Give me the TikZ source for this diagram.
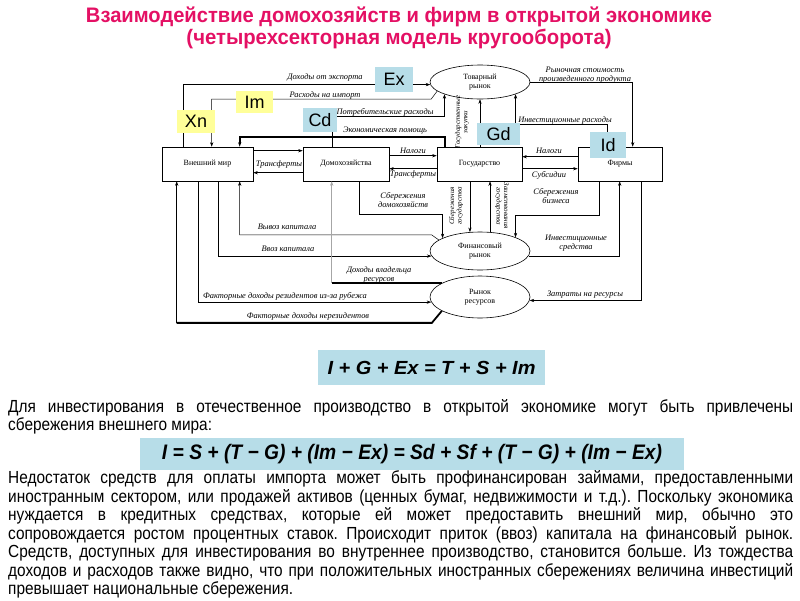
\documentclass[tikz,border=0pt]{standalone}
\usepackage{fontspec}
\usepackage{graphicx}
\setmainfont{Liberation Serif}
\newfontfamily\bodyfont[FakeStretch=0.88]{Liberation Sans}
\newfontfamily\titlefont{Liberation Sans}
\newfontfamily\labfont{Liberation Sans}
\usetikzlibrary{shapes.geometric,arrows.meta,calc}
\definecolor{ttl}{RGB}{228,16,100}
\definecolor{lblue}{RGB}{183,221,232}
\definecolor{lyel}{RGB}{255,255,153}
\frenchspacing
\begin{document}
\begin{tikzpicture}[x=1pt,y=-1pt,
  sector/.style={draw, line width=0.6pt, minimum height=34pt, inner sep=0pt, font=\fontsize{8}{9}\selectfont},
  market/.style={draw, ellipse, line width=0.6pt, minimum width=100pt, inner sep=0pt, align=center, font=\fontsize{8}{8.5}\selectfont},
  flow/.style={line width=0.5pt, -{Stealth[length=4.5pt,width=3.2pt]}},
  heavy/.style={line width=1.8pt},
  lab/.style={inner sep=0pt, align=center, font=\itshape\fontsize{8.4}{8.4}\selectfont},
  vlab/.style={inner sep=0pt, align=center, font=\itshape\fontsize{7}{7.5}\selectfont},
  tag/.style={inner sep=0pt, font=\labfont\fontsize{18}{18}\selectfont},
  eqbox/.style={fill=lblue, inner sep=0pt},
  bodyline/.style={anchor=west, inner sep=0pt, font=\bodyfont\fontsize{17.5}{18}\selectfont},
  titleline/.style={inner sep=0pt, text=ttl, font=\titlefont\bfseries\fontsize{21}{22}\selectfont}
]
\fill[white] (0,0) rectangle (800,600);
\useasboundingbox (0,0) rectangle (800,600);

% title
\node[titleline] (t1) at (399,17) {\resizebox{626pt}{\height}{Взаимодействие домохозяйств и фирм в открытой экономике}};
\node[titleline] (t2) at (399,39) {\resizebox{425pt}{\height}{(четырехсекторная модель кругооборота)}};

% sectors
\node[sector, minimum width=91pt] (wm) at (207.5,164) {Внешний мир};
\node[sector, minimum width=86pt] (hh) at (346,164) {Домохозяйства};
\node[sector, minimum width=85pt] (gov) at (479.5,164) {Государство};
\node[sector, minimum width=84pt] (firm) at (620,164) {Фирмы};
% markets
\node[market, minimum height=34pt] (tr) at (480,82) {Товарный\\рынок};
\node[market, minimum height=38pt] (fr) at (480,251) {Финансовый\\рынок};
\node[market, minimum height=42pt] (rr) at (480,297) {Рынок\\ресурсов};

% upper flows
\draw[flow] ([xshift=22pt]wm.north west) |- (tr.183);
\draw[flow] (tr.192) -- ++(-6,8) -| ([xshift=50pt]wm.north west);
\draw[flow] ([xshift=30pt]hh.north west) -- ++(0,-30) -| (tr.199);
\draw[flow,heavy] ([xshift=8pt]gov.north west) -- ++(0,-10) -| ([xshift=78pt]wm.north west);
\draw[flow] (gov.north -| tr.south) -- (tr.south);
\draw[flow] (tr.east) -| ([xshift=55pt]firm.north west);
\draw[flow] ([xshift=30pt]firm.north west) -- ++(0,-22) -| (tr.-19);

% middle flows
\draw[flow] ([yshift=-4pt]wm.north east) -- ([yshift=-4pt]hh.north west);
\draw[flow] ([yshift=-26pt]hh.north west) -- ([yshift=-26pt]wm.north east);
\draw[flow] ([yshift=-9pt]hh.north east) -- ([yshift=-9pt]gov.north west);
\draw[flow] ([yshift=-22pt]gov.north west) -- ([yshift=-22pt]hh.north east);
\draw[flow] ([yshift=-10pt]firm.north west) -- ([yshift=-10pt]gov.north east);
\draw[flow] ([yshift=-22pt]gov.north east) -- ([yshift=-22pt]firm.north west);

% lower flows
\draw[flow] ([xshift=57pt]hh.south west) -- ++(0,33) -| (fr.161);
\draw[flow] (gov.south -| fr.118) -- (fr.118);
\draw[flow] (fr.62) -- (fr.62 |- gov.south);
\draw[flow] ([xshift=22pt]firm.south west) -- ++(0,34) -| (fr.21);
\draw[flow] (fr.-6) -| ([xshift=42pt]firm.south west);
\draw[flow] ([xshift=64pt]firm.south west) |- (rr.-4);
\draw[flow] (fr.165) -- ++(-7,-5) -| ([xshift=78pt]wm.south west);
\draw[flow] ([xshift=57pt]wm.south west) |- (fr.186);
\draw[flow] ([xshift=37pt]wm.south west) |- (rr.186);
\coordinate (wmA) at ([xshift=15pt]wm.south west);
\draw[heavy] (rr.200) -- ++(-10,12) coordinate (nr1) -- (nr1 -| wmA) coordinate (nr2);
\draw[flow] (nr2) -- (wmA);
\coordinate (hhA) at ([xshift=29pt]hh.south west);
\draw[heavy] (rr.160) -- (rr.160 -| hhA) coordinate (ro1);
\draw[flow, black!35] (ro1) -- (hhA);

% flow labels
\node[lab] (l1) at (325,77) {Доходы от экспорта};
\node[lab] (l2) at (325,95) {Расходы на импорт};
\node[lab] (l3) at (385,112.5) {Потребительские расходы};
\node[lab] (l4) at (385,131) {Экономическая помощь};
\node[lab] (l5) at (585,75) {Рыночная стоимость\\произведенного продукта};
\node[lab] (l6) at (565,120) {Инвестиционные расходы};
\node[lab] (l7) at (279,164) {Трансферты};
\node[lab] (l8) at (413,151) {Налоги};
\node[lab] (l9) at (413,174) {Трансферты};
\node[lab] (l10) at (549,151) {Налоги};
\node[lab] (l11) at (549,175) {Субсидии};
\node[lab] (l12) at (403,200) {Сбережения\\домохозяйств};
\node[lab] (l13) at (556,196) {Сбережения\\бизнеса};
\node[lab] (l14) at (576,243) {Инвестиционные\\средства};
\node[lab] (l15) at (585,295) {Затраты на ресурсы};
\node[lab] (l16) at (287,227) {Вывоз капитала};
\node[lab] (l17) at (288,249) {Ввоз капитала};
\node[lab] (l18) at (379,275) {Доходы владельца\\ресурсов};
\node[lab] (l19) at (285,296) {Факторные доходы резидентов из-за рубежа};
\node[lab] (l20) at (308,316) {Факторные доходы нерезидентов};
\node[vlab, rotate=90] (l21) at (462,122) {Государственные\\закупки};
\node[vlab, rotate=90] (l22) at (456,206) {Сбережения\\государства};
\node[vlab, rotate=-90] (l23) at (502,206) {Заимствования\\государства};

% tags
\node[tag, fill=lblue, minimum width=38pt, minimum height=25pt] (ex) at (394,79.5) {Ex};
\node[tag, fill=lyel, minimum width=37pt, minimum height=22pt] (im) at (254.5,102) {Im};
\node[tag, fill=lyel, minimum width=38pt, minimum height=23pt] (xn) at (196,121.5) {Xn};
\node[tag, fill=lblue, minimum width=34pt, minimum height=24pt] (cd) at (320,120) {Cd};
\node[tag, fill=lblue, minimum width=43pt, minimum height=22pt] (gd) at (498.5,134) {Gd};
\node[tag, fill=lblue, minimum width=36pt, minimum height=26pt] (id) at (608,145) {Id};

% equations
\node[eqbox, minimum width=227pt, minimum height=35pt, font=\labfont\bfseries\itshape\fontsize{19}{20}\selectfont] (eq1) at (431.5,367.5) {\resizebox{208pt}{\height}{I + G + Ex = T + S + Im}};
\node[eqbox, minimum width=544pt, minimum height=32pt, font=\labfont\bfseries\itshape\fontsize{21}{22}\selectfont] (eq2) at (412,454) {\resizebox{500pt}{\height}{I = S + (T − G) + (Im − Ex) = Sd + Sf + (T − G) + (Im − Ex)}};

% body text
\node[bodyline] (b1) at (8,408) {\makebox[785pt][s]{Для инвестирования в отечественное производство в открытой экономике могут быть привлечены}};
\node[bodyline] (b2) at (8,426) {сбережения внешнего мира:};
\node[bodyline] (p1) at (8,479) {\makebox[785pt][s]{Недостаток средств для оплаты импорта может быть профинансирован займами, предоставленными}};
\node[bodyline] (p2) at (8,497.5) {\makebox[785pt][s]{иностранным сектором, или продажей активов (ценных бумаг, недвижимости и т.д.). Поскольку экономика}};
\node[bodyline] (p3) at (8,516) {\makebox[785pt][s]{нуждается в кредитных средствах, которые ей может предоставить внешний мир, обычно это}};
\node[bodyline] (p4) at (8,534.5) {\makebox[785pt][s]{сопровождается ростом процентных ставок. Происходит приток (ввоз) капитала на финансовый рынок.}};
\node[bodyline] (p5) at (8,553) {\makebox[785pt][s]{Средств, доступных для инвестирования во внутреннее производство, становится больше. Из тождества}};
\node[bodyline] (p6) at (8,571.5) {\makebox[785pt][s]{доходов и расходов также видно, что при положительных иностранных сбережениях величина инвестиций}};
\node[bodyline] (p7) at (8,590) {превышает национальные сбережения.};
\end{tikzpicture}
\end{document}
